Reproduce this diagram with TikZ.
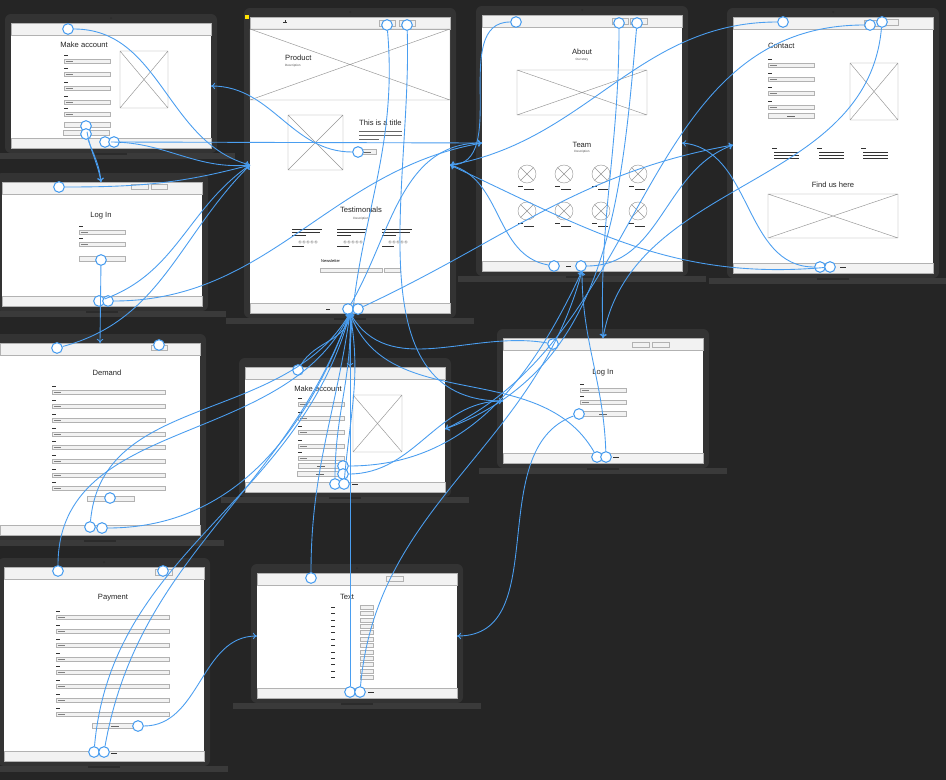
\documentclass[tikz,border=0pt]{standalone}
\usepackage{fontspec}
\setmainfont{Liberation Sans}
\usetikzlibrary{arrows.meta}
\definecolor{bggray}{HTML}{252525}
\definecolor{bodygray}{HTML}{333333}
\definecolor{basegray}{HTML}{3A3A3A}
\definecolor{notchgray}{HTML}{2B2B2B}
\definecolor{bargray}{HTML}{F2F2F2}
\definecolor{linegray}{HTML}{B2B2B2}
\definecolor{linkblue}{HTML}{4A9EF0}

\tikzset{
  bar/.style={fill=bargray, draw=linegray, line width=0.4pt},
  imgbox/.style={draw=linegray!85!black, line width=0.4pt},
  field/.style={fill=bargray, draw=linegray, line width=0.4pt},
  tinyline/.style={draw=black!80, line width=0.35pt},
  title/.style={font=\fontsize{6.5}{7.5}\selectfont, text=black!85, inner sep=0pt},
  small/.style={font=\fontsize{2.6}{3}\selectfont, text=black!70, inner sep=0pt},
  hot/.style={circle, draw=linkblue, line width=0.9pt, fill=white, inner sep=0pt, minimum size=0.32cm},
  link/.style={draw=linkblue, line width=0.75pt, -{To[length=3.5pt,width=5.5pt]}}
}

% x0 y0 x1 y1 of the screen
\newcommand{\laptop}[4]{%
  \fill[bodygray, rounded corners=5pt] (#1-6,#2-9) rectangle (#3+6,#4+5);
  \fill[basegray] (#1-24,#4+5) rectangle (#3+24,#4+11);
  \fill[notchgray] ({(#1+#3)/2-16},#4+5) rectangle ({(#1+#3)/2+16},#4+7);
  \fill[notchgray] ({(#1+#3)/2},#2-5) circle[radius=0.03cm];
  \fill[white] (#1,#2) rectangle (#3,#4);
  \draw[bar] (#1,#2) rectangle (#3,#2+12);
  \draw[bar] (#1,#4-10) rectangle (#3,#4);
}
\newcommand{\imgx}[4]{\draw[imgbox] (#1,#2) rectangle (#3,#4) (#1,#2) -- (#3,#4) (#1,#4) -- (#3,#2);}
\newcommand{\infield}[3]{%
  \draw[tinyline] (#1,#2-5.5) -- ++(4,0);
  \draw[field] (#1,#2-2.2) rectangle (#3,#2+2.2);
  \draw[tinyline, draw=black!50] (#1+1.5,#2) -- ++(7,0);}
\newcommand{\btn}[3]{%
  \draw[field] (#1,#2-2.4) rectangle (#3,#2+2.4);
  \draw[tinyline, draw=black!60] ({(#1+#3)/2-4},#2) -- ++(8,0);}
\newcommand{\avatar}[2]{%
  \draw[imgbox] (#1,#2) circle[radius=0.27cm];
  \draw[imgbox] (#1-6.4,#2-6.4) -- (#1+6.4,#2+6.4) (#1-6.4,#2+6.4) -- (#1+6.4,#2-6.4);}

\begin{document}
\begin{tikzpicture}[x=0.03cm, y=-0.03cm]
\fill[bggray] (0,0) rectangle (946,780);
\useasboundingbox (0,0) rectangle (946,780);

\laptop{11}{23}{211}{148}
\laptop{250}{17}{450}{313}
\laptop{482}{15}{682}{271}
\laptop{733}{17}{933}{273}
\laptop{2}{182}{202}{306}
\laptop{0}{343}{200}{535}
\laptop{4}{567}{204}{761}
\laptop{257}{573}{457}{698}
\laptop{245}{367}{445}{492}
\laptop{503}{338}{703}{463}

% make account (top left)
\node[title] at (84,45) {Make account};
\foreach \yy in {61,74,88,102,114} {\infield{64}{\yy}{110}}
\btn{64}{125}{110}
\btn{63}{133}{109}
\imgx{120}{51}{168}{108}
\draw[tinyline] (118,142) -- ++(6,0);

% product
\fill[yellow!85!orange] (245,15) rectangle (249,19);
\draw[tinyline] (283,22) -- ++(4,0) (285,20) -- ++(0,3);
\draw[bar] (379,20) rectangle (395,26);
\draw[bar] (399,20) rectangle (415,26);
\imgx{250}{29}{450}{100}
\node[title, anchor=west] at (285,58) {Product};
\node[small, anchor=west] at (285,66) {Description};
\imgx{288}{115}{343}{170}
\node[title, anchor=west] at (359,123) {This is a title};
\foreach \yy/\ww in {131/43,135/43,139/20} {\draw[tinyline, draw=black!60] (359,\yy) -- ++(\ww,0);}
\btn{358}{152}{376}
\node[title] at (361,210) {Testimonials};
\node[small] at (361,219) {Description};
\foreach \xx in {292,337,382} {
  \foreach \yy/\ww in {229/30,232/28,235/14} {\draw[tinyline] (\xx,\yy) -- ++(\ww,0);}
  \foreach \k in {0,...,4} {\draw[imgbox] (\xx+8+4*\k,242) circle[radius=0.04cm];}
  \draw[tinyline] (\xx,246) -- ++(12,0);
}
\node[small, font=\fontsize{3.4}{4}\selectfont, anchor=west, text=black] at (321,261) {Newsletter};
\draw[field] (320,268) rectangle (382,272);
\draw[field] (384,268) rectangle (400,272);
\draw[tinyline] (326,309) -- ++(4,0);

% about
\draw[bar] (612,18) rectangle (628,24);
\draw[bar] (630,18) rectangle (647,24);
\node[title] at (582,52) {About};
\node[small] at (582,60) {Our story};
\imgx{517}{70}{647}{115}
\node[title] at (582,145) {Team};
\node[small] at (582,152) {Description};
\foreach \xx in {527,564,601,638} {
  \foreach \yy in {174,211} {
    \avatar{\xx}{\yy}
    \draw[tinyline] (\xx-9,\yy+12) -- ++(5,0);
    \draw[tinyline] (\xx-3,\yy+15) -- ++(10,0);
  }
}
\draw[tinyline] (566,266) -- ++(5,0);

% contact
\draw[bar] (864,20) rectangle (880,26);
\draw[bar] (883,19) rectangle (898,25);
\node[title, anchor=west] at (768,46) {Contact};
\foreach \yy in {65,79,93,107} {\infield{768}{\yy}{814}}
\btn{768}{116}{814}
\imgx{850}{63}{898}{120}
\foreach \xx in {772,817,861} {
  \draw[tinyline] (\xx,148) -- ++(5,0);
  \foreach \yy in {152,155,158} {\draw[tinyline] (\xx+2,\yy) -- ++(25,0);}
}
\node[title] at (833,185) {Find us here};
\imgx{768}{194}{898}{238}
\draw[tinyline] (840,267) -- ++(6,0);

% log in (left)
\draw[bar] (131,184) rectangle (148,189);
\draw[bar] (151,184) rectangle (167,189);
\node[title] at (101,216) {Log In};
\infield{79}{232}{125}
\infield{79}{244}{125}
\btn{79}{259}{125}

% demand
\draw[bar] (151,345) rectangle (167,350);
\node[title] at (107,373) {Demand};
\foreach \yy in {392,406,420,434,447,461,475,488} {\infield{52}{\yy}{165}}
\btn{87}{499}{134}

% payment
\draw[bar] (155,569) rectangle (172,575);
\node[title] at (113,598) {Payment};
\foreach \yy in {617,631,645,659,672,686,700,714} {\infield{56}{\yy}{169}}
\btn{92}{726}{138}
\draw[tinyline] (111,753) -- ++(6,0);

% text
\draw[bar] (386,576) rectangle (403,581);
\node[title] at (347,597) {Text};
\foreach \k in {0,...,11} {
  \draw[tinyline] (331,{607+6.4*\k}) -- ++(4,0);
  \draw[field] (360,{605+6.4*\k}) rectangle (373,{609+6.4*\k});
}
\draw[tinyline] (368,692) -- ++(6,0);

% make account (middle)
\node[title] at (318,389) {Make account};
\foreach \yy in {404,418,432,446,458} {\infield{298}{\yy}{344}}
\btn{298}{466}{344}
\btn{297}{474}{343}
\imgx{353}{395}{402}{452}
\draw[tinyline] (352,484) -- ++(6,0);

% log in (right)
\draw[bar] (632,342) rectangle (649,347);
\draw[bar] (652,342) rectangle (669,347);
\node[title] at (603,373) {Log In};
\infield{580}{390}{626}
\infield{580}{402}{626}
\btn{580}{414}{626}
\draw[tinyline] (613,457) -- ++(6,0);

% link targets
\coordinate (prodL) at (250,165);
\coordinate (prodR) at (450,165);
\coordinate (prodB) at (350,313);
\coordinate (aboutL) at (482,143);
\coordinate (aboutR) at (682,143);
\coordinate (aboutB) at (582,271);
\coordinate (contactL) at (733,145);
\coordinate (loginaT) at (101,182);
\coordinate (demandT) at (100,343);
\coordinate (makeaR) at (211,86);
\coordinate (loginbT) at (603,338);
\coordinate (loginbL) at (503,401);
\coordinate (makebR) at (445,429);
\coordinate (makebT) at (350,367);
\coordinate (textL) at (257,636);
\coordinate (textR) at (457,636);

% hot spots
\node[hot] (maLogo) at (68,29) {};
\node[hot] (maBtnA) at (86,126) {};
\node[hot] (maBtnB) at (86,134) {};
\node[hot] (maFootA) at (105,142) {};
\node[hot] (maFootB) at (114,142) {};
\node[hot] (prBtnA) at (387,25) {};
\node[hot] (prBtnB) at (407,25) {};
\node[hot] (prMore) at (358,152) {};
\node[hot] (prFootA) at (348,309) {};
\node[hot] (prFootB) at (358,309) {};
\node[hot] (abLogo) at (516,22) {};
\node[hot] (abBtnA) at (619,23) {};
\node[hot] (abBtnB) at (637,23) {};
\node[hot] (abFootA) at (554,266) {};
\node[hot] (abFootB) at (581,266) {};
\node[hot] (coLogo) at (783,22) {};
\node[hot] (coBtnA) at (870,25) {};
\node[hot] (coBtnB) at (882,22) {};
\node[hot] (coFootA) at (820,267) {};
\node[hot] (coFootB) at (830,267) {};
\node[hot] (laLogo) at (59,187) {};
\node[hot] (laBtn) at (101,260) {};
\node[hot] (laFootA) at (99,301) {};
\node[hot] (laFootB) at (108,301) {};
\node[hot] (deLogo) at (57,348) {};
\node[hot] (deHead) at (159,345) {};
\node[hot] (deBtn) at (110,498) {};
\node[hot] (deFootA) at (90,527) {};
\node[hot] (deFootB) at (102,528) {};
\node[hot] (paLogo) at (58,571) {};
\node[hot] (paHead) at (163,571) {};
\node[hot] (paBtn) at (138,726) {};
\node[hot] (paFootA) at (94,752) {};
\node[hot] (paFootB) at (104,752) {};
\node[hot] (teLogo) at (311,578) {};
\node[hot] (teFootA) at (350,692) {};
\node[hot] (teFootB) at (360,692) {};
\node[hot] (mbLogo) at (298,370) {};
\node[hot] (mbBtnA) at (343,466) {};
\node[hot] (mbBtnB) at (343,474) {};
\node[hot] (mbFootA) at (335,484) {};
\node[hot] (mbFootB) at (344,484) {};
\node[hot] (lbLogo) at (553,344) {};
\node[hot] (lbBtn) at (579,414) {};
\node[hot] (lbFootA) at (597,457) {};
\node[hot] (lbFootB) at (606,457) {};

% links
\draw[link] (maLogo) to[out=0,in=165] (prodL);
\draw[link] (maBtnA) to[out=-80,in=100] (loginaT);
\draw[link] (maBtnB) to[out=-70,in=95] (loginaT);
\draw[link] (maFootA) to[out=0,in=185] (prodL);
\draw[link] (maFootB) -- (aboutL);
\draw[link] (prMore) to[out=180,in=0] (makeaR);
\draw[link] (laLogo) to[out=0,in=195] (prodL);
\draw[link] (laBtn) -- (demandT);
\draw[link] (laFootA) to[out=20,in=215] (prodL);
\draw[link] (laFootB) to[out=0,in=190] (aboutL);
\draw[link] (deLogo) to[out=15,in=225] (prodL);
\draw[link] (deFootA) to[out=85,in=240] (prodB);
\draw[link] (deFootB) to[out=0,in=250] (prodB);
\draw[link] (paLogo) to[out=90,in=245] (prodB);
\draw[link] (paBtn) to[out=0,in=180] (textL);
\draw[link] (paFootA) to[out=85,in=255] (prodB);
\draw[link] (paFootB) to[out=80,in=250] (prodB);
\draw[link] (teLogo) to[out=90,in=262] (prodB);
\draw[link] (teFootA) -- (prodB);
\draw[link] (teFootB) to[out=85,in=255] (aboutB);
\draw[link] (mbLogo) to[out=60,in=265] (prodB);
\draw[link] (mbBtnA) to[out=0,in=245] (aboutB);
\draw[link] (mbBtnB) to[out=0,in=180] (loginbL);
\draw[link] (mbFootA) to[out=90,in=272] (prodB);
\draw[link] (mbFootB) to[out=85,in=280] (prodB);
\draw[link] (lbLogo) to[out=170,in=300] (prodB);
\draw[link] (lbBtn) to[out=200,in=0] (textR);
\draw[link] (lbFootA) to[out=120,in=290] (prodB);
\draw[link] (lbFootB) to[out=92,in=270] (aboutB);
\draw[link] (prBtnA) to[out=-85,in=90] (makebT);
\draw[link] (prBtnB) to[out=-88,in=180] (loginbL);
\draw[link] (prFootA) to[out=60,in=180] (aboutL);
\draw[link] (prFootB) to[out=25,in=190] (contactL);
\draw[link] (abLogo) to[out=180,in=0] (prodR);
\draw[link] (abBtnA) to[out=-90,in=92] (loginbT);
\draw[link] (abBtnB) to[out=-95,in=20] (makebR);
\draw[link] (abFootA) to[out=170,in=-15] (prodR);
\draw[link] (abFootB) to[out=0,in=200] (contactL);
\draw[link] (coLogo) to[out=180,in=10] (prodR);
\draw[link] (coBtnA) to[out=180,in=25] (makebR);
\draw[link] (coBtnB) to[out=-95,in=80] (loginbT);
\draw[link] (coFootA) to[out=180,in=-5] (aboutR);
\draw[link] (coFootB) to[out=185,in=-25] (prodR);

\end{tikzpicture}
\end{document}
